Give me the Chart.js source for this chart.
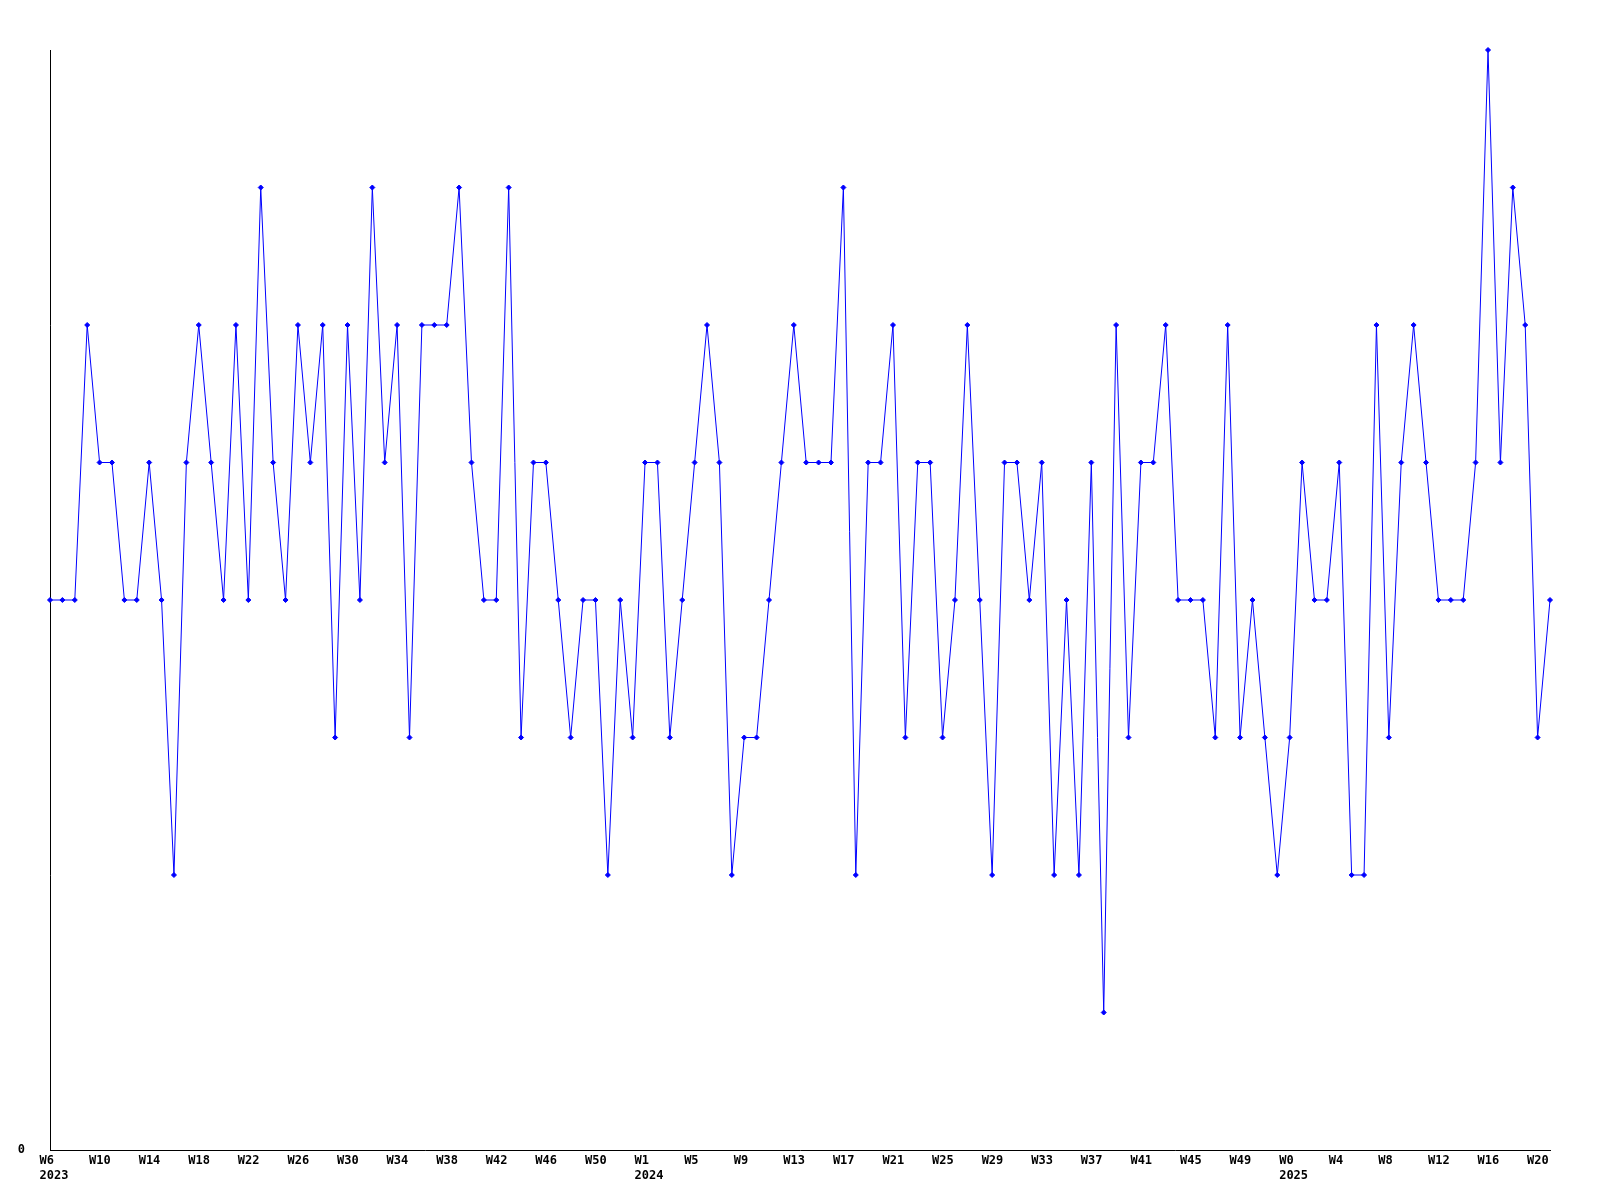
<!DOCTYPE html>
<html>
<head>
<meta charset="utf-8">
<script src="https://cdn.jsdelivr.net/npm/chart.js@4/dist/chart.umd.min.js"></script>
<style>
  html, body { margin: 0; padding: 0; background: #ffffff; }
  #wrap { width: 1600px; height: 1200px; }
</style>
</head>
<body>
<div id="wrap"><canvas id="c" width="1600" height="1200"></canvas></div>
<script>
// ---- data ----
const years = [2023, 2024, 2025];

const weeks2023 = [6,7,8,9,10,11,12,13,14,15,16,17,18,19,20,21,22,23,24,25,26,27,28,29,30,31,32,33,34,35,36,37,38,39,40,41,42,43,44,45,46,47,48,49,50,51,52];
const weeks2024 = [0,1,2,3,4,5,6,7,8,9,10,11,12,13,14,15,16,17,18,19,20,21,22,23,24,25,26,27,28,29,30,31,32,33,34,35,36,37,38,39,40,41,42,43,44,45,46,47,48,49,50,51,52];
const weeks2025 = [0,1,2,3,4,5,6,7,8,9,10,11,12,13,14,15,16,17,18,19,20,21];

const values2023 = [4,4,4,6,5,5,4,4,5,4, 2,5,6,5,4,6,4,7,5,4, 6,5,6,3,6,4,7,5,6,3, 6,6,6,7,5,4,4,7,3,5, 5,4,3,4,4,2,4];
const values2024 = [3, 5,5,3,4,5,6,5,2,3,3, 4,5,6,5,5,5,7,2,5,5, 6,3,5,5,3,4,6,4,2,5, 5,4,5,2,4,2,5,1,6,3, 5,5,6,4,4,4,3,6,3,4, 3,2];
const values2025 = [3,5,4,4,5,2,2,6,3,5, 6,5,4,4,4,5,8,5,7,6, 3,4];

const yTickLabels = ['0'];
const labelEvery = 4;

// ---- build the library's table from the arrays ----
const weekSets = [weeks2023, weeks2024, weeks2025];
const valueSets = [values2023, values2024, values2025];
const categories = [];
const categoryYears = [];
const values = [];
weekSets.forEach((weeks, k) => {
  weeks.forEach((w, j) => {
    categories.push('W' + w);
    categoryYears.push(years[k]);
    values.push(valueSets[k][j]);
  });
});

const tickFont = { family: 'DejaVu Sans Mono', size: 12, weight: 'bold' };

new Chart(document.getElementById('c'), {
  type: 'line',
  data: {
    labels: categories,
    datasets: [{
      data: values,
      borderColor: '#0000ff',
      borderWidth: 1,
      backgroundColor: '#0000ff',
      pointStyle: 'rectRot',
      pointRadius: 2.5,
      pointBorderWidth: 1,
      pointBackgroundColor: '#0000ff',
      pointBorderColor: '#0000ff',
      tension: 0,
      fill: false,
      clip: false
    }]
  },
  options: {
    responsive: false,
    animation: false,
    devicePixelRatio: 1,
    layout: { padding: { top: 50, right: 50, left: 0, bottom: 0 } },
    plugins: { legend: { display: false }, tooltip: { enabled: false } },
    scales: {
      x: {
        type: 'category',
        offset: false,
        grid: { display: false, drawTicks: false },
        border: { display: true, color: '#000000', width: 1 },
        ticks: {
          autoSkip: false,
          maxRotation: 0,
          minRotation: 0,
          align: 'start',
          labelOffset: -10.5,
          padding: 4,
          color: '#000000',
          font: tickFont,
          callback: function (v, i) {
            if (i % labelEvery !== 0) return '';
            let firstOfYear = true;
            for (let j = i - labelEvery; j >= 0; j -= labelEvery) {
              if (categoryYears[j] === categoryYears[i]) { firstOfYear = false; break; }
            }
            return firstOfYear ? [categories[i], String(categoryYears[i])] : categories[i];
          }
        },
        afterFit: function (s) { s.height = 50; }
      },
      y: {
        min: 0,
        max: 8,
        grid: { display: false, drawTicks: false },
        border: { display: true, color: '#000000', width: 1 },
        ticks: {
          stepSize: 8,
          padding: 25,
          color: '#000000',
          font: tickFont,
          callback: function (v) { return v === 0 ? yTickLabels[0] : ''; }
        },
        afterFit: function (s) { s.width = 50; }
      }
    }
  }
});
</script>
</body>
</html>
